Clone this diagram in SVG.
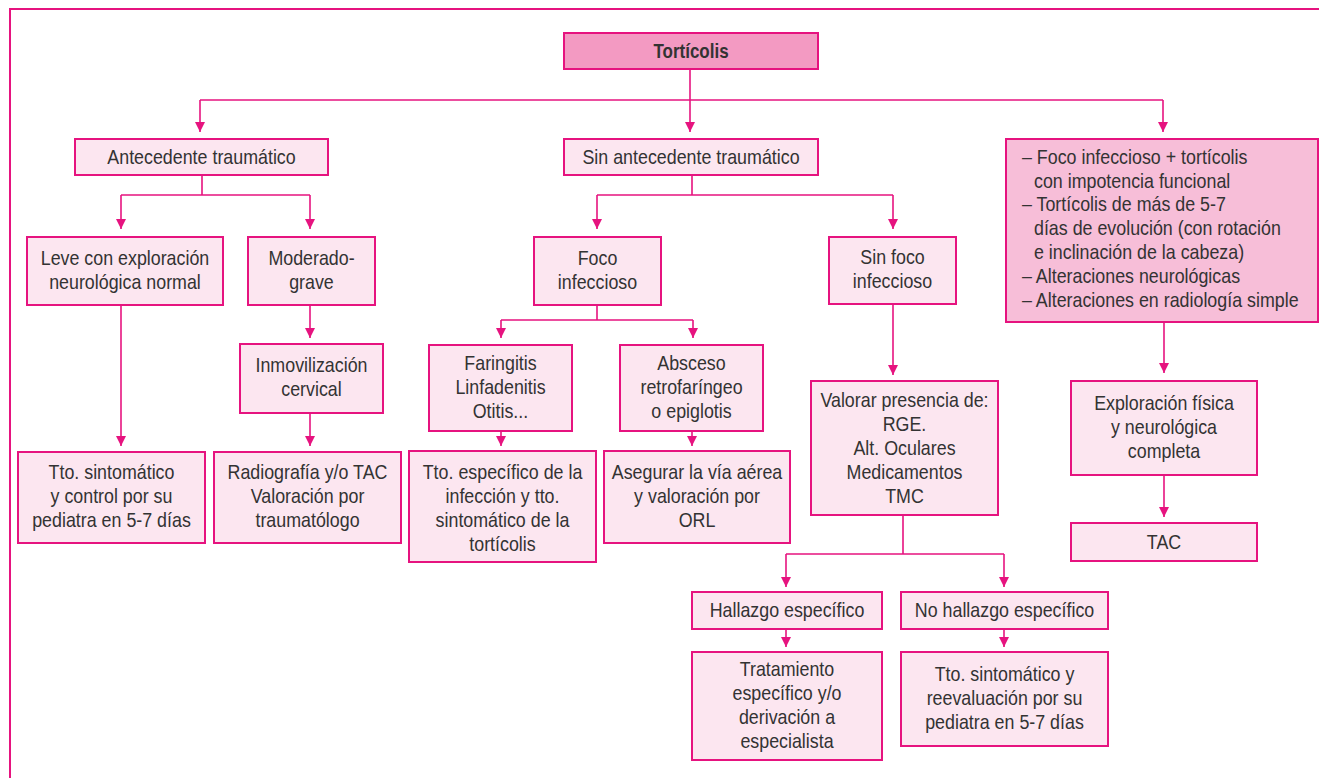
<svg xmlns="http://www.w3.org/2000/svg" width="1319" height="778" viewBox="0 0 1319 778">
<defs>
<style>
.box{fill:#FCE6F0;stroke:#E6137F;stroke-width:2}
.main{fill:#F39AC2;stroke:#E6137F;stroke-width:2}
.list{fill:#F7BED8;stroke:#E6137F;stroke-width:2}
.frame{fill:none;stroke:#E6137F;stroke-width:2}
.con{fill:none;stroke:#E6137F;stroke-width:1.6}
.arr{marker-end:url(#ah)}
text{font-family:"Liberation Sans",Arial,sans-serif;font-size:21px;fill:#333333;transform-box:fill-box;transform-origin:center;transform:scaleX(0.85)}
.c{text-anchor:middle}
.l{transform-origin:left center}
.b{font-weight:bold;font-size:20px}
</style>
<marker id="ah" viewBox="0 0 10 10" refX="10" refY="5" markerWidth="10" markerHeight="10" markerUnits="userSpaceOnUse" orient="auto">
<path d="M0,0 L10,5 L0,10 z" fill="#E6137F"/>
</marker>
</defs>
<path class="frame" d="M10,778 L10,9 L1319,9"/>
<g id="connectors">
<path class="con arr" d="M690,69 L690,132"/>
<path class="con" d="M200,100 L1163,100"/>
<path class="con arr" d="M200,100 L200,132"/>
<path class="con arr" d="M1163,100 L1163,132"/>
<path class="con" d="M202,175 L202,195 M121,195 L310,195"/>
<path class="con arr" d="M121,195 L121,229"/>
<path class="con arr" d="M310,195 L310,229"/>
<path class="con arr" d="M121,305 L121,446"/>
<path class="con arr" d="M310,305 L310,338"/>
<path class="con arr" d="M310,413 L310,446"/>
<path class="con" d="M692,175 L692,195 M597,195 L893,195"/>
<path class="con arr" d="M597,195 L597,229"/>
<path class="con arr" d="M893,195 L893,229"/>
<path class="con" d="M597,305 L597,320 M501,320 L693,320"/>
<path class="con arr" d="M501,320 L501,338"/>
<path class="con arr" d="M693,320 L693,338"/>
<path class="con arr" d="M501,431 L501,446"/>
<path class="con arr" d="M692,431 L692,446"/>
<path class="con arr" d="M893,304 L893,375"/>
<path class="con" d="M903,515 L903,554 M786,554 L1004,554"/>
<path class="con arr" d="M786,554 L786,587"/>
<path class="con arr" d="M1004,554 L1004,587"/>
<path class="con arr" d="M786,629 L786,647"/>
<path class="con arr" d="M1004,629 L1004,647"/>
<path class="con arr" d="M1164,322 L1164,373"/>
<path class="con arr" d="M1164,475 L1164,517"/>
</g>
<g id="torticolis"><rect class="main" x="564" y="33" width="254" height="36"/><text class="c b" x="691" y="58">Tortícolis</text></g>
<g id="antecedente"><rect class="box" x="75" y="139" width="253" height="36"/><text class="c" x="201.5" y="164">Antecedente traumático</text></g>
<g id="sin-antecedente"><rect class="box" x="564" y="139" width="254" height="36"/><text class="c" x="691" y="164">Sin antecedente traumático</text></g>
<g id="lista"><rect class="list" x="1006" y="139" width="312" height="183"/>
<text class="l" x="1022" y="164">– Foco infeccioso + tortícolis</text>
<text class="l" x="1034" y="188">con impotencia funcional</text>
<text class="l" x="1022" y="211.5">– Tortícolis de más de 5-7</text>
<text class="l" x="1034" y="235">días de evolución (con rotación</text>
<text class="l" x="1034" y="259">e inclinación de la cabeza)</text>
<text class="l" x="1022" y="283">– Alteraciones neurológicas</text>
<text class="l" x="1022" y="307">– Alteraciones en radiología simple</text>
</g>
<g id="leve"><rect class="box" x="27" y="237" width="196" height="68"/><text class="c" x="125" y="265">Leve con exploración</text><text class="c" x="125" y="289">neurológica normal</text></g>
<g id="moderado"><rect class="box" x="248" y="237" width="127" height="68"/><text class="c" x="311.5" y="265">Moderado-</text><text class="c" x="311.5" y="289">grave</text></g>
<g id="inmovilizacion"><rect class="box" x="240" y="344" width="143" height="69"/><text class="c" x="311.5" y="372.5">Inmovilización</text><text class="c" x="311.5" y="396.5">cervical</text></g>
<g id="tto-sintomatico"><rect class="box" x="18" y="452" width="187" height="91"/><text class="c" x="111.5" y="479.5">Tto. sintomático</text><text class="c" x="111.5" y="503.5">y control por su</text><text class="c" x="111.5" y="527.5">pediatra en 5-7 días</text></g>
<g id="radiografia"><rect class="box" x="214" y="452" width="187" height="91"/><text class="c" x="307.5" y="479.5">Radiografía y/o TAC</text><text class="c" x="307.5" y="503.5">Valoración por</text><text class="c" x="307.5" y="527.5">traumatólogo</text></g>
<g id="foco"><rect class="box" x="534" y="237" width="127" height="68"/><text class="c" x="597.5" y="265">Foco</text><text class="c" x="597.5" y="289">infeccioso</text></g>
<g id="sin-foco"><rect class="box" x="829" y="237" width="127" height="67"/><text class="c" x="892.5" y="264.5">Sin foco</text><text class="c" x="892.5" y="288.5">infeccioso</text></g>
<g id="faringitis"><rect class="box" x="429" y="345" width="143" height="86"/><text class="c" x="500.5" y="370">Faringitis</text><text class="c" x="500.5" y="394">Linfadenitis</text><text class="c" x="500.5" y="418">Otitis...</text></g>
<g id="absceso"><rect class="box" x="620" y="345" width="143" height="86"/><text class="c" x="691.5" y="370">Absceso</text><text class="c" x="691.5" y="394">retrofaríngeo</text><text class="c" x="691.5" y="418">o epiglotis</text></g>
<g id="tto-especifico"><rect class="box" x="409" y="451" width="187" height="111"/><text class="c" x="502.5" y="479">Tto. específico de la</text><text class="c" x="502.5" y="503">infección y tto.</text><text class="c" x="502.5" y="527">sintomático de la</text><text class="c" x="502.5" y="551">tortícolis</text></g>
<g id="asegurar"><rect class="box" x="604" y="451" width="186" height="92"/><text class="c" x="697" y="479">Asegurar la vía aérea</text><text class="c" x="697" y="503">y valoración por</text><text class="c" x="697" y="527">ORL</text></g>
<g id="valorar"><rect class="box" x="811" y="381" width="187" height="134"/><text class="c" x="904.5" y="407">Valorar presencia de:</text><text class="c" x="904.5" y="431">RGE.</text><text class="c" x="904.5" y="455">Alt. Oculares</text><text class="c" x="904.5" y="479">Medicamentos</text><text class="c" x="904.5" y="503">TMC</text></g>
<g id="hallazgo"><rect class="box" x="692" y="592" width="190" height="37"/><text class="c" x="787" y="617.5">Hallazgo específico</text></g>
<g id="no-hallazgo"><rect class="box" x="901" y="592" width="207" height="37"/><text class="c" x="1004.5" y="617.5">No hallazgo específico</text></g>
<g id="tratamiento"><rect class="box" x="692" y="652" width="190" height="108"/><text class="c" x="787" y="676">Tratamiento</text><text class="c" x="787" y="700">específico y/o</text><text class="c" x="787" y="724">derivación a</text><text class="c" x="787" y="748">especialista</text></g>
<g id="tto-reevaluacion"><rect class="box" x="901" y="652" width="207" height="94"/><text class="c" x="1004.5" y="681">Tto. sintomático y</text><text class="c" x="1004.5" y="705">reevaluación por su</text><text class="c" x="1004.5" y="729">pediatra en 5-7 días</text></g>
<g id="exploracion"><rect class="box" x="1071" y="381" width="186" height="94"/><text class="c" x="1164" y="410">Exploración física</text><text class="c" x="1164" y="434">y neurológica</text><text class="c" x="1164" y="458">completa</text></g>
<g id="tac"><rect class="box" x="1071" y="523" width="186" height="38"/><text class="c" x="1164" y="549">TAC</text></g>
</svg>
